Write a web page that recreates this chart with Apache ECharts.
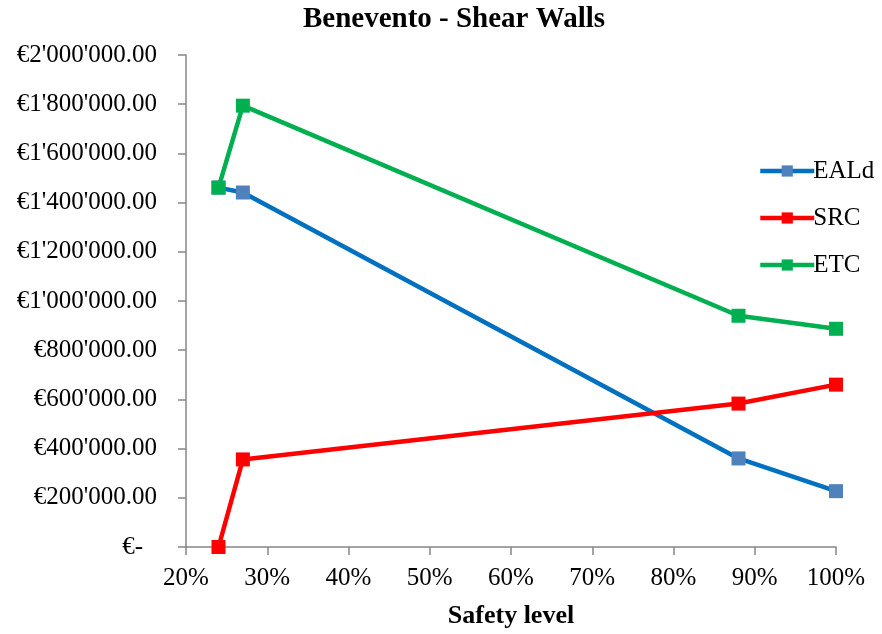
<!DOCTYPE html>
<html>
<head>
<meta charset="utf-8">
<script src="https://cdn.jsdelivr.net/npm/echarts@6/dist/echarts.min.js"></script>
<style>
html,body{margin:0;padding:0;background:#fff;}
#chart{width:882px;height:634px;}
</style>
</head>
<body>
<div id="chart"></div>
<script>
const safetyLevels = [24, 27, 88, 100];
const ealdValues = [1461000, 1441000, 360000, 227000];
const srcValues = [0, 356000, 583000, 660000];
const etcValues = [1461000, 1794000, 940000, 887000];
const seriesNames = ['EALd', 'SRC', 'ETC'];
const chartTitle = 'Benevento - Shear Walls';
const xAxisTitle = 'Safety level';

function pairs(xs, ys){ return xs.map((x,i)=>[x, ys[i]]); }
function euro(v){
  if (v === 0) return '{z|€-}';
  const s = Math.round(v).toString().replace(/\B(?=(\d{3})+(?!\d))/g, "'");
  return '€' + s + '.00';
}
const FONT = '"Liberation Serif", "Times New Roman", serif';
const axisGray = '#868686';

const chart = echarts.init(document.getElementById('chart'));
function lineSeries(name, data, lineColor, markerColor){
  return {
    name: name, type: 'line', data: data,
    symbol: 'rect', symbolSize: 14,
    lineStyle: {color: lineColor, width: 4.5},
    itemStyle: {color: markerColor},
    emphasis: {disabled: true},
    animation: false
  };
}
chart.setOption({
  backgroundColor: '#fff',
  textStyle: {fontFamily: FONT},
  title: {
    text: chartTitle, left: 454, top: 5, textAlign: 'center', padding: 0,
    textStyle: {fontFamily: FONT, fontWeight: 'bold', fontSize: 29, color: '#000'}
  },
  legend: {
    orient: 'vertical', left: 753, top: 153,
    itemWidth: 54, itemHeight: 14, itemGap: 21,
    data: seriesNames,
    lineStyle: {width: 4.5},
    textStyle: {fontFamily: FONT, fontSize: 25, color: '#000', lineHeight: 26, padding: [0,0,0,-6]}
  },
  grid: {left: 186, right: 46, top: 55, bottom: 85},
  xAxis: {
    type: 'value', min: 20, max: 100, interval: 10,
    name: xAxisTitle, nameLocation: 'middle', nameGap: 56,
    nameTextStyle: {fontFamily: FONT, fontWeight: 'bold', fontSize: 26, color: '#000'},
    axisLine: {show: true, lineStyle: {color: axisGray, width: 1.5}},
    axisTick: {show: true, length: 8, lineStyle: {color: axisGray, width: 1.5}},
    splitLine: {show: false},
    axisLabel: {formatter: v => v + '%', margin: 19, fontFamily: FONT, fontSize: 25, color: '#000'}
  },
  yAxis: {
    type: 'value', min: 0, max: 2000000, interval: 200000,
    axisLine: {show: true, lineStyle: {color: axisGray, width: 1.5}},
    axisTick: {show: true, length: 8, lineStyle: {color: axisGray, width: 1.5}},
    splitLine: {show: false},
    axisLabel: {
      formatter: euro, margin: 29, fontFamily: FONT, fontSize: 25, color: '#000',
      rich: {z: {fontFamily: FONT, fontSize: 25, color: '#000', padding: [0, 14, 0, 0]}}
    }
  },
  series: [
    lineSeries(seriesNames[0], pairs(safetyLevels, ealdValues), '#0070C0', '#4F81BD'),
    lineSeries(seriesNames[1], pairs(safetyLevels, srcValues), '#FF0000', '#FF0000'),
    lineSeries(seriesNames[2], pairs(safetyLevels, etcValues), '#00B050', '#00B050')
  ],
  animation: false
});
</script>
</body>
</html>
